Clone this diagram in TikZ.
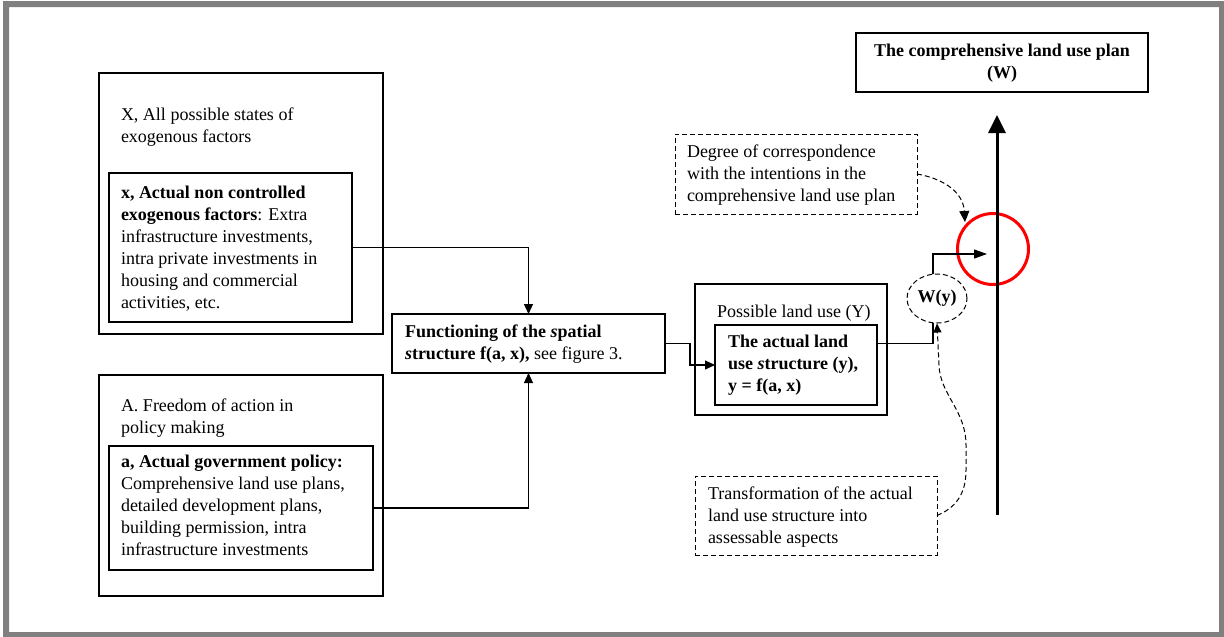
\documentclass[tikz,border=0pt]{standalone}
\usepackage{fontspec}
\setmainfont{Liberation Serif}
\usetikzlibrary{arrows.meta,shapes.geometric,calc}
\newcommand\tp{\rule{0pt}{13pt}}
\begin{document}
\begin{tikzpicture}[x=1pt,y=-1pt,
  box/.style={draw=black,line width=1.2pt,inner sep=0pt,outer sep=0pt,rectangle},
  dbox/.style={box,line width=1pt,dash pattern=on 5pt off 3pt},
  txt/.style={inner sep=0pt,outer sep=0pt,anchor=north west,align=left,font=\fontsize{18}{22}\selectfont},
  conn/.style={line width=1.2pt,-{Triangle[length=10pt,width=9pt]}},
  dconn/.style={line width=1pt,dash pattern=on 5pt off 3pt,-{Triangle[length=11pt,width=10pt]}},
]
\useasboundingbox (0,0) rectangle (1224,637);
\fill[fill=black!50,even odd rule] (3,1) rectangle (1224,637) (9,7) rectangle (1219,632);

% boxes
\node[box,minimum width=284pt,minimum height=261pt] (Xout) at (241,203.5) {};
\node[box,minimum width=243pt,minimum height=149pt] (xin) at (230.5,247.5) {};
\node[box,minimum width=284pt,minimum height=221pt] (Aout) at (241,485.5) {};
\node[box,minimum width=264pt,minimum height=124pt] (ain) at (241,508) {};
\node[box,minimum width=273pt,minimum height=59pt] (func) at (528.5,343.5) {};
\node[box,minimum width=192pt,minimum height=131pt] (Yout) at (791,349.5) {};
\node[box,minimum width=162pt,minimum height=80pt] (yin) at (796,365) {};
\node[box,minimum width=292pt,minimum height=59pt] (Wbox) at (1002,62.5) {};
\node[dbox,minimum width=242pt,minimum height=80pt] (deg) at (796,174) {};
\node[dbox,minimum width=242pt,minimum height=79pt] (trans) at (816,515.5) {};

% texts
\node[txt] (xhd) at (121,107) {\tp X, All possible states of\\exogenous factors};
\node[txt] (xtx) at (121,185) {\tp\textbf{x, Actual non controlled}\\\textbf{exogenous factors}: Extra\\infrastructure investments,\\intra private investments in\\housing and commercial\\activities, etc.};
\node[txt] (ahd) at (121,398) {\tp A. Freedom of action in\\policy making};
\node[txt] (atx) at (121,454) {\tp\textbf{a, Actual government policy:}\\Comprehensive land use plans,\\detailed development plans,\\building permission, intra\\infrastructure investments};
\node[txt] (ftx) at (405,324) {\tp\textbf{Functioning of the \textit{s}patial}\\\textbf{\textit{s}tructure f(a, x),} see figure 3.};
\node[txt] (yhd) at (717,304) {\tp Possible land use (Y)};
\node[txt] (ytx) at (728,334) {\tp\textbf{The actual land}\\\textbf{use \textit{s}tructure (y),}\\\textbf{y = f(a, x)}};
\node[txt,anchor=north,align=center] (wtx) at (1002,43) {\tp\textbf{The comprehensive land use plan}\\\textbf{(W)}};
\node[txt] (dtx) at (687,144) {\tp Degree of correspondence\\with the intentions in the\\comprehensive land use plan};
\node[txt] (ttx) at (708,486) {\tp Transformation of the actual\\land use structure into\\assessable aspects};

% coordinates
\coordinate (ptg) at (987,254);
\coordinate (mbot) at (997,515);
\coordinate (mtop) at (997,115);
\coordinate (dtip) at (965,222);

% red circle
\node[circle,draw=red,line width=3pt,minimum size=71pt,inner sep=0pt] (redc) at (993,249) {};

% connectors
\draw[conn] (xin.east) -- (func.north |- xin.east) -- (func.north);
\draw[conn] (ain.east) -- (func.south |- ain.east) -- (func.south);
\draw[conn] (func.east) -- ++(25,0) |- (yin.west);
\draw[line width=1.2pt,-{Triangle[length=13pt,width=9pt]}] (yin.east |- func.east) -- (933,343.5) -- (933,254) -- (ptg);
\draw[line width=3pt,-{Triangle[length=18pt,width=17pt]}] (mbot) -- (mtop);

% W(y) ellipse
\node[ellipse,draw=black,line width=1pt,dash pattern=on 5pt off 3pt,fill=white,minimum width=60pt,minimum height=49pt,inner sep=0pt,font=\bfseries\fontsize{18}{22}\selectfont] (wy) at (937,298.5) {W(y)};

% dashed curves
\draw[dconn] (deg.east) .. controls (940,178) and (963,190) .. (dtip);
\draw[dconn,-{Triangle[length=9pt,width=8pt]}] (trans.east) .. controls (955,508) and (966,495) .. (966,470) -- (966,445) .. controls (966,410) and (940,395) .. (939,365) -- (wy.south);
\end{tikzpicture}
\end{document}
